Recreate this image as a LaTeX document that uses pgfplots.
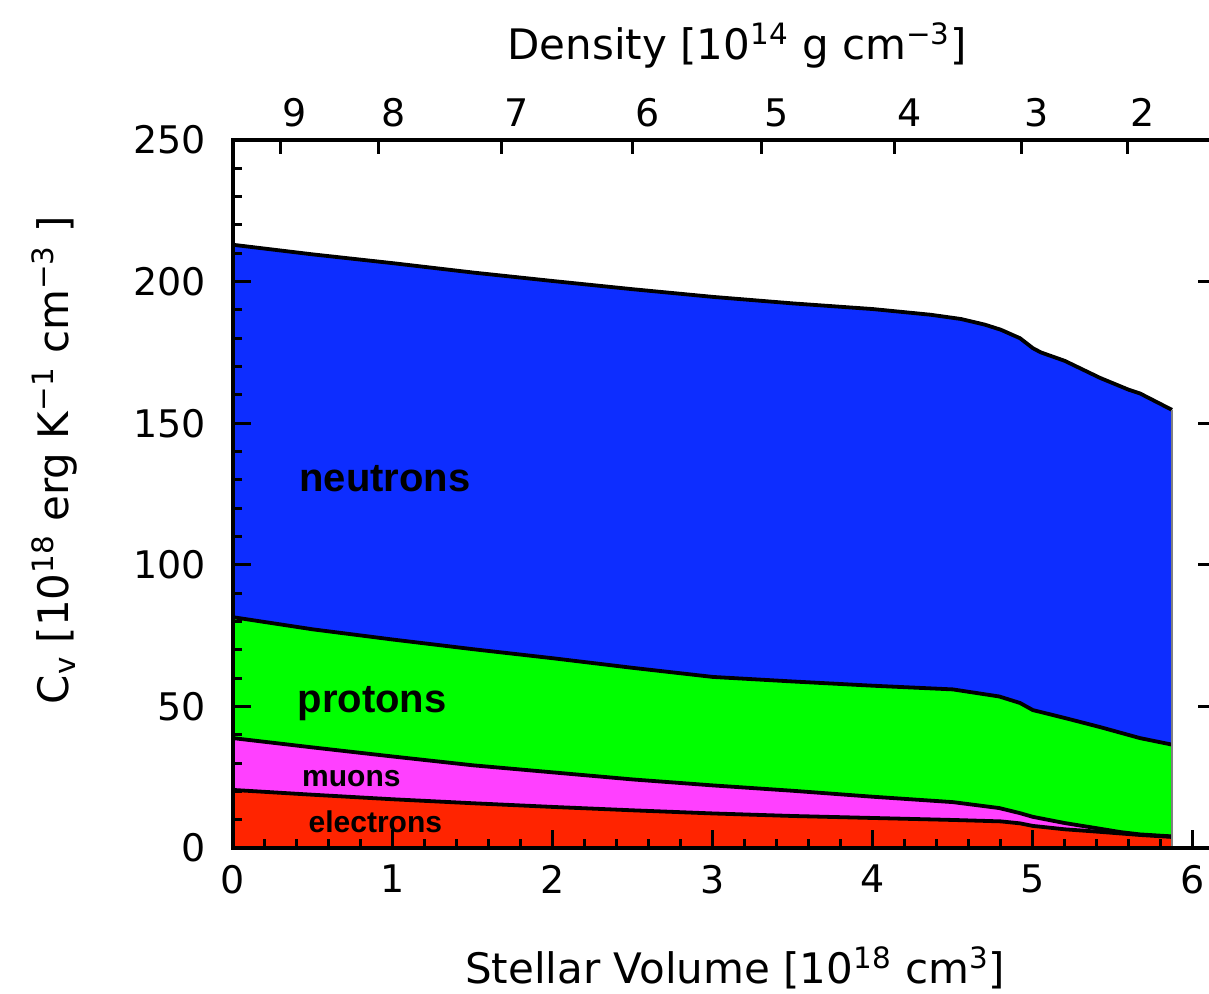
\documentclass[border=0pt]{standalone}
\usepackage{fontspec}
\setmainfont{DejaVu Sans}
\newfontfamily\boldsans{Liberation Sans}
\usepackage{pgfplots}
\usepackage{pgfplotstable}
\pgfplotsset{compat=1.18}
\definecolor{cneu}{RGB}{13,45,255}
\definecolor{cpro}{RGB}{0,255,0}
\definecolor{cmuo}{RGB}{255,64,255}
\definecolor{cele}{RGB}{255,36,0}

\pgfplotstableread{
x y
0 213
0.5 209.6
1 206.5
1.5 203.2
2 200.2
2.5 197.3
3 194.6
3.5 192.3
4 190.3
4.36 188.3
4.55 186.8
4.7 184.8
4.8 183
4.92 180
5.0 176.5
5.05 175
5.2 172
5.42 166
5.6 161.8
5.67 160.5
5.87 154.7
}\neutrons

\pgfplotstableread{
x y
0 81.5
0.5 77.2
1 73.6
1.5 70.2
2 67
2.5 63.6
3 60.4
3.5 58.8
4 57.3
4.5 56
4.79 53.5
4.92 51.2
5.0 48.7
5.2 45.9
5.42 42.7
5.67 38.8
5.87 36.5
}\protons

\pgfplotstableread{
x y
0 38.8
0.5 35.5
1 32.3
1.5 29.2
2 26.7
2.5 24.2
3 22.1
3.5 20.2
4 18.1
4.5 16.2
4.79 14.1
4.92 12.3
5.0 11
5.2 8.8
5.42 6.8
5.55 5.6
5.67 4.8
5.87 4.1
}\muons

\pgfplotstableread{
x y
0 20.5
0.5 18.8
1 17.2
1.5 15.8
2 14.5
2.5 13.3
3 12.2
3.5 11.3
4 10.6
4.5 9.9
4.8 9.4
4.92 8.7
5.0 7.8
5.2 6.6
5.42 5.7
5.67 4.6
5.87 3.9
}\electrons

\begin{document}
\begin{tikzpicture}
\begin{axis}[name=main,
  scale only axis, width=489.5pt, height=354pt,
  xmin=0, xmax=6.12, ymin=0, ymax=250,
  xtick={0,1,2,3,4,5,6}, ytick={0,50,100,150,200,250},
  minor x tick num=4, minor y tick num=4,
  xtick pos=bottom, ytick pos=left,
  tick align=inside,
  major tick length=9pt, minor tick length=4.5pt,
  every tick/.style={black, line width=1.5pt},
  axis line style={line width=2pt},
  axis on top,
  tick label style={font=\fontsize{19}{21}\selectfont},
  /pgf/number format/assume math mode=true,
  yticklabel style={xshift=-10pt},
  xticklabel style={yshift=-5pt},
  xlabel={Stellar Volume [10\textsuperscript{18} cm\textsuperscript{3}]},
  ylabel={C\textsubscript{v} [10\textsuperscript{18} erg K\textsuperscript{−1} cm\textsuperscript{−3} ]},
  xlabel style={at={(axis description cs:0.513,-0.169)}, anchor=center, font=\fontsize{21}{24}\selectfont},
  ylabel style={at={(axis description cs:-0.182,0.548)}, anchor=center, font=\fontsize{21}{24}\selectfont},
]
\addplot[fill=cneu, draw=none] table[x=x,y=y]{\neutrons} \closedcycle;
\addplot[fill=cpro, draw=none] table[x=x,y=y]{\protons} \closedcycle;
\addplot[fill=cmuo, draw=none] table[x=x,y=y]{\muons} \closedcycle;
\addplot[fill=cele, draw=none] table[x=x,y=y]{\electrons} \closedcycle;
\addplot[black, line width=1.9pt] table[x=x,y=y]{\neutrons};
\addplot[black, line width=1.9pt] table[x=x,y=y]{\protons};
\addplot[black, line width=1.9pt] table[x=x,y=y]{\muons};
\addplot[black, line width=1.9pt] table[x=x,y=y]{\electrons};
\draw[gray, line width=0.6pt] (axis cs:5.87,0) -- (axis cs:5.87,154.7);
\node[font=\boldsans\bfseries\fontsize{20}{22}\selectfont] at (axis cs:0.95,130.5) {neutrons};
\node[font=\boldsans\bfseries\fontsize{20}{22}\selectfont] at (axis cs:0.87,51) {protons};
\node[font=\boldsans\bfseries\fontsize{15}{17}\selectfont] at (axis cs:0.74,24.5) {muons};
\node[font=\boldsans\bfseries\fontsize{15}{17}\selectfont] at (axis cs:0.89,9.2) {electrons};
\end{axis}
\begin{axis}[
  at={(main.south west)}, anchor=south west,
  scale only axis, width=489.5pt, height=354pt,
  xmin=0, xmax=6.12, ymin=0, ymax=250,
  axis x line*=top, axis y line*=right,
  xtick={0.294,0.908,1.679,2.498,3.304,4.1375,4.929,5.592},
  xticklabels={9,8,7,6,5,4,3,2},
  ytick={0,50,100,150,200,250}, yticklabels={},
  minor tick num=0,
  tick align=inside,
  major tick length=7pt,
  every tick/.style={black, line width=1.5pt},
  axis line style={line width=2pt},
  tick label style={font=\fontsize{19}{21}\selectfont},
  /pgf/number format/assume math mode=true,
  xticklabel style={xshift=7.5pt, yshift=3pt},
  xlabel={Density [10\textsuperscript{14} g cm\textsuperscript{−3}]},
  xlabel style={at={(axis description cs:0.515,1.134)}, anchor=center, font=\fontsize{21}{24}\selectfont},
]
\end{axis}
\pgfresetboundingbox
\path ([shift={(-116.5pt,-73pt)}]main.south west) rectangle ([shift={(-1.5pt,70pt)}]main.north east);
\end{tikzpicture}
\end{document}
